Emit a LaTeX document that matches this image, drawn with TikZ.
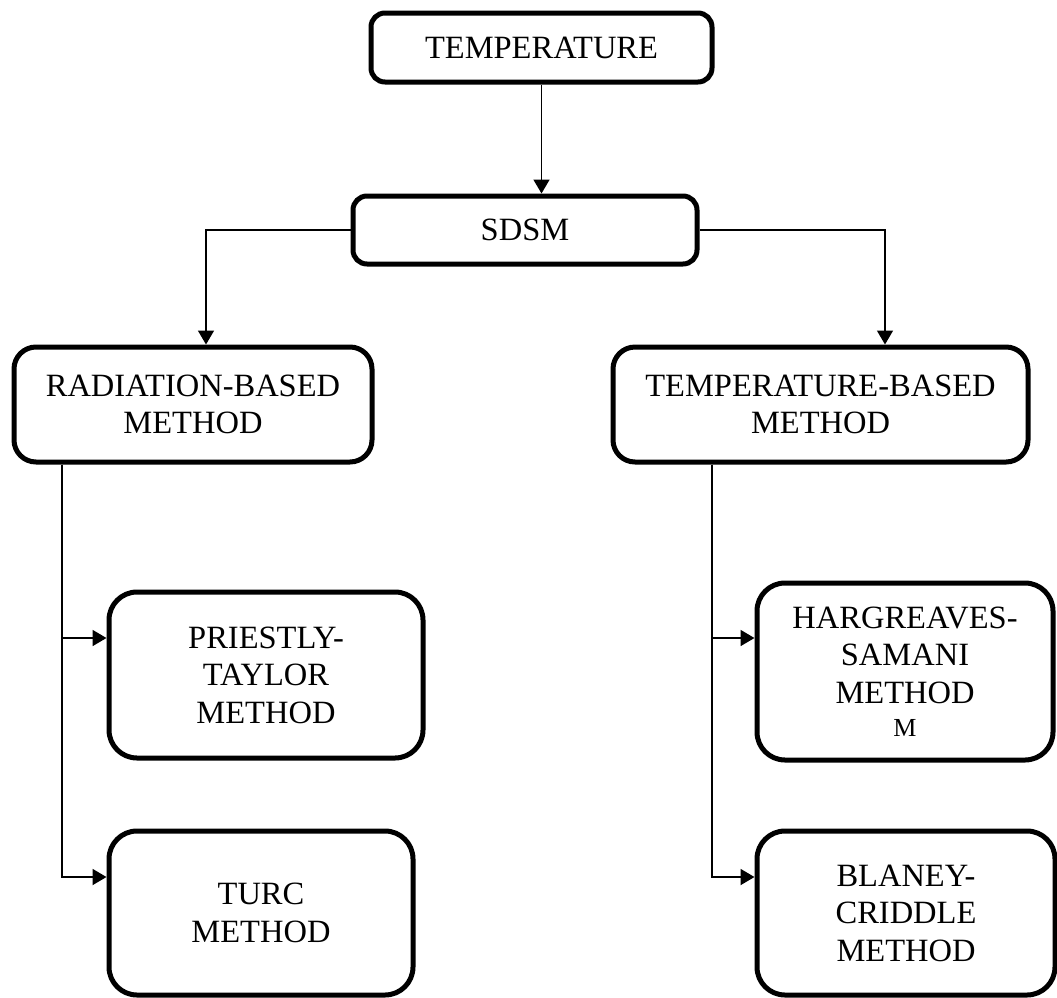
\documentclass[tikz,border=0pt]{standalone}
\usepackage{fontspec}
\setmainfont{Liberation Serif}
\usetikzlibrary{arrows.meta}
\begin{document}
\begin{tikzpicture}[x=1pt,y=-1pt,
  box/.style={draw=black,line width=5pt,align=center,inner sep=0pt,
    font=\fontsize{32.5}{37.5}\selectfont},
  conn/.style={draw=black,line width=1.8pt,-{Triangle[length=14pt,width=16pt]}},
  thinconn/.style={draw=black,line width=1.5pt,-{Triangle[length=14pt,width=16pt]}},
  plain/.style={draw=black,line width=1.8pt}
]
\useasboundingbox (0,0) rectangle (1057,997);
\node[box,rounded corners=14pt,minimum width=341pt,minimum height=69pt] (temp) at (541.5,47.5) {TEMPERATURE};
\node[box,rounded corners=14pt,minimum width=344pt,minimum height=68pt] (sdsm) at (525,230) {SDSM};
\node[box,rounded corners=22pt,minimum width=358pt,minimum height=115pt] (rad) at (193,404.5) {RADIATION-BASED\\METHOD};
\node[box,rounded corners=22pt,minimum width=415pt,minimum height=115pt] (tb) at (820.5,404.5) {TEMPERATURE-BASED\\METHOD};
\node[box,rounded corners=28pt,minimum width=314pt,minimum height=166pt] (pt) at (266,675) {PRIESTLY-\\TAYLOR\\METHOD};
\node[box,rounded corners=28pt,minimum width=304pt,minimum height=164pt] (turc) at (261,913) {TURC\\METHOD};
\node[box,rounded corners=28pt,minimum width=296pt,minimum height=177pt] (hs) at (905,671.5) {HARGREAVES-\\SAMANI\\METHOD\\[-4.5pt]{\fontsize{26}{30}\selectfont M}};
\node[box,rounded corners=28pt,minimum width=298pt,minimum height=164pt] (bc) at (906,913) {BLANEY-\\CRIDDLE\\METHOD};

\coordinate (lx) at (62,0);
\coordinate (rx) at (712,0);

\draw[conn] (temp.south) -- (temp.south |- sdsm.north);
\draw[thinconn] (sdsm.west) -| ([xshift=13pt]rad.north);
\draw[thinconn] (sdsm.east) -| ([xshift=64.5pt]tb.north);

\draw[plain] (rad.south -| lx) -- ([yshift=36pt]turc.west -| lx);
\draw[conn] (rad.south -| lx) |- ([yshift=37pt]pt.west);
\draw[conn] (rad.south -| lx) |- ([yshift=36pt]turc.west);

\draw[plain] (tb.south -| rx) -- ([yshift=36pt]bc.west -| rx);
\draw[conn] (tb.south -| rx) |- ([yshift=33.5pt]hs.west);
\draw[conn] (tb.south -| rx) |- ([yshift=36pt]bc.west);
\end{tikzpicture}
\end{document}
